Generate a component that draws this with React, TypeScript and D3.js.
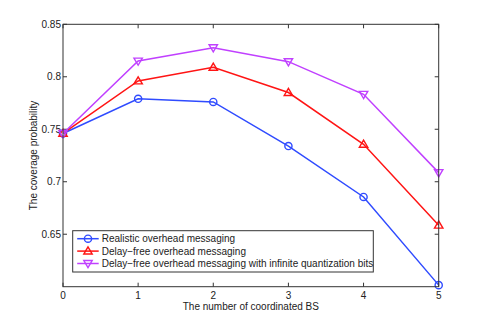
import React, { useEffect, useRef } from "react";
import * as d3 from "d3";

const xValues = [0, 1, 2, 3, 4, 5];
const realistic = [0.746, 0.779, 0.776, 0.734, 0.6855, 0.6015];
const delayFree = [0.746, 0.796, 0.809, 0.785, 0.7357, 0.6586];
const infiniteBits = [0.746, 0.815, 0.8277, 0.8144, 0.7833, 0.7087];
const yTicks = [0.65, 0.7, 0.75, 0.8, 0.85];
const seriesNames = [
  "Realistic overhead messaging",
  "Delay\u2212free overhead messaging",
  "Delay\u2212free overhead messaging with infinite quantization bits",
];

const App = () => {
  const ref = useRef<SVGSVGElement>(null);

  useEffect(() => {
    const svg = d3.select(ref.current);
    svg.selectAll("*").remove();

    const W = 485;
    const H = 323;
    const left = 63,
      right = 438.7,
      top = 24.3,
      bottom = 286.7;
    const font = "'Liberation Sans', Arial, sans-serif";
    const fs = 10;

    const x = d3.scaleLinear().domain([0, 5]).range([left, right]);
    const y = d3.scaleLinear().domain([0.6, 0.85]).range([bottom, top]);

    svg.append("rect").attr("width", W).attr("height", H).attr("fill", "white");

    const axisColor = "#333";
    const tickLen = 4;

    // ticks (inward, all four sides)
    const g = svg.append("g").attr("stroke", axisColor).attr("stroke-width", 1);
    xValues.forEach((v) => {
      g.append("line").attr("x1", x(v)).attr("x2", x(v)).attr("y1", bottom).attr("y2", bottom - tickLen);
      g.append("line").attr("x1", x(v)).attr("x2", x(v)).attr("y1", top).attr("y2", top + tickLen);
    });
    yTicks.forEach((v) => {
      g.append("line").attr("x1", left).attr("x2", left + tickLen).attr("y1", y(v)).attr("y2", y(v));
      g.append("line").attr("x1", right).attr("x2", right - tickLen).attr("y1", y(v)).attr("y2", y(v));
    });

    // tick labels
    xValues.forEach((v) => {
      svg
        .append("text")
        .attr("x", x(v))
        .attr("y", 299)
        .attr("text-anchor", "middle")
        .attr("font-family", font)
        .attr("font-size", fs)
        .attr("fill", "#222")
        .text(d3.format("d")(v));
    });
    yTicks.forEach((v) => {
      svg
        .append("text")
        .attr("x", left - 2)
        .attr("y", y(v) + 3.6)
        .attr("text-anchor", "end")
        .attr("font-family", font)
        .attr("font-size", fs)
        .attr("fill", "#222")
        .text(d3.format("")(v));
    });

    // axis labels
    svg
      .append("text")
      .attr("x", (left + right) / 2)
      .attr("y", 309.5)
      .attr("text-anchor", "middle")
      .attr("font-family", font)
      .attr("font-size", fs)
      .attr("fill", "#222")
      .text("The number of coordinated BS");
    svg
      .append("text")
      .attr("transform", `translate(37, ${(top + bottom) / 2}) rotate(-90)`)
      .attr("text-anchor", "middle")
      .attr("font-family", font)
      .attr("font-size", fs)
      .attr("fill", "#222")
      .text("The coverage probability");

    const series = [
      { values: realistic, color: "#2f4bff", marker: "circle" },
      { values: delayFree, color: "#ff1414", marker: "up" },
      { values: infiniteBits, color: "#c040ff", marker: "down" },
    ];

    const line = d3
      .line<number>()
      .x((_, i) => x(xValues[i]))
      .y((d) => y(d));

    const drawMarker = (sel: any, type: string, cx: number, cy: number, color: string) => {
      if (type === "circle") {
        sel.append("circle").attr("cx", cx).attr("cy", cy).attr("r", 3.6)
          .attr("fill", "none").attr("stroke", color).attr("stroke-width", 1.4);
      } else {
        const s = 4.2;
        const pts =
          type === "up"
            ? [[cx, cy - s], [cx - s, cy + s * 0.7], [cx + s, cy + s * 0.7]]
            : [[cx, cy + s], [cx - s, cy - s * 0.7], [cx + s, cy - s * 0.7]];
        sel.append("polygon").attr("points", pts.map((p) => p.join(",")).join(" "))
          .attr("fill", "none").attr("stroke", color).attr("stroke-width", 1.4);
      }
    };

    const plot = svg.append("g");
    series.forEach((s) => {
      plot.append("path").datum(s.values).attr("d", line).attr("fill", "none")
        .attr("stroke", s.color).attr("stroke-width", 1.5);
      s.values.forEach((v, i) => drawMarker(plot, s.marker, x(xValues[i]), y(v), s.color));
    });

    // frame
    svg.append("rect").attr("x", left).attr("y", top).attr("width", right - left)
      .attr("height", bottom - top).attr("fill", "none").attr("stroke", axisColor).attr("stroke-width", 1);

    // legend
    const lx = 72.7, ly = 230.7, lw = 300.6, lh = 41.3;
    const leg = svg.append("g");
    leg.append("rect").attr("x", lx).attr("y", ly).attr("width", lw).attr("height", lh)
      .attr("fill", "white").attr("stroke", axisColor).attr("stroke-width", 1);
    series.forEach((s, i) => {
      const cy = ly + 8 + i * 12.4;
      leg.append("line").attr("x1", lx + 4.5).attr("x2", lx + 26).attr("y1", cy).attr("y2", cy)
        .attr("stroke", s.color).attr("stroke-width", 1.5);
      drawMarker(leg, s.marker, lx + 15.3, cy, s.color);
      leg.append("text").attr("x", lx + 29).attr("y", cy + 3.6).attr("font-family", font)
        .attr("font-size", fs).attr("fill", "#222").text(seriesNames[i]);
    });
  }, []);

  return <svg ref={ref} width={485} height={323} style={{ display: "block", position: "absolute", left: 0, top: 0 }} />;
};

export default App;
